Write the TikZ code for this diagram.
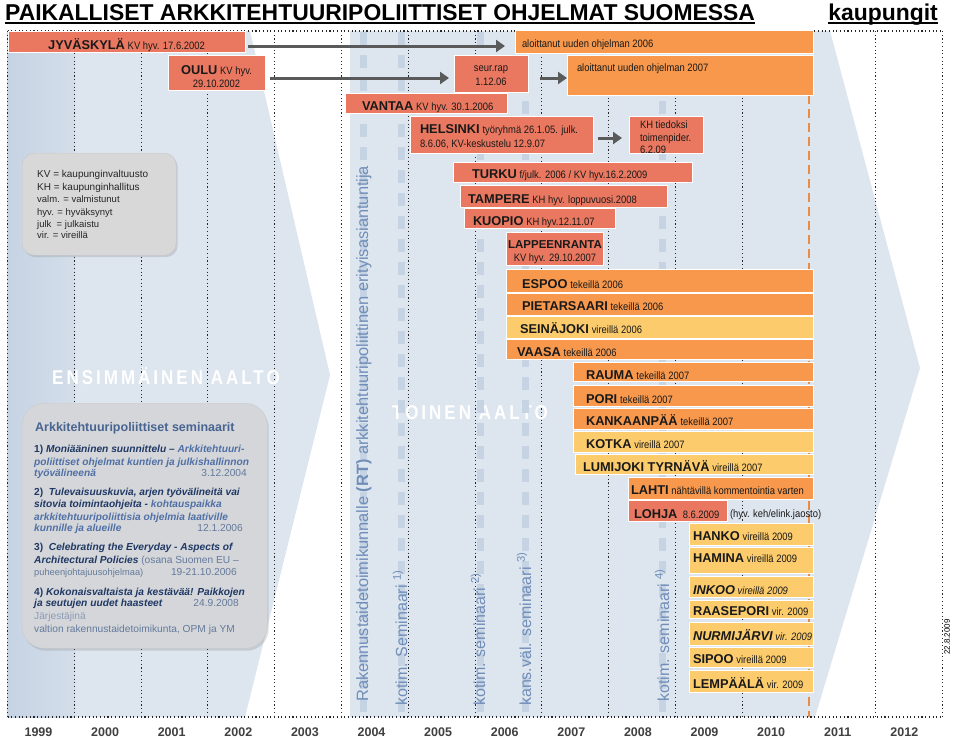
\documentclass[tikz,border=0pt]{standalone}
\usepackage{fontspec}
\setmainfont{Liberation Sans}
\newfontfamily\narrowf[FakeStretch=0.88]{Liberation Sans}
\newfontfamily\wavef[FakeStretch=0.85,LetterSpace=15]{Liberation Sans}
\usetikzlibrary{arrows.meta,shadows}
\definecolor{salm}{RGB}{234,120,96}
\definecolor{oran}{RGB}{247,152,76}
\definecolor{yell}{RGB}{251,203,108}
\definecolor{wave}{RGB}{221,229,239}
\definecolor{wavedark}{RGB}{198,211,227}
\definecolor{barc}{RGB}{198,211,227}
\definecolor{vtext}{RGB}{112,142,184}
\definecolor{arrg}{RGB}{90,90,90}
\definecolor{legg}{RGB}{216,216,216}
\definecolor{semg}{RGB}{212,214,218}
\definecolor{navy}{RGB}{31,56,100}
\definecolor{lblue}{RGB}{80,112,165}
\definecolor{gblue}{RGB}{100,122,155}
\definecolor{semtitle}{RGB}{72,100,145}
\definecolor{yearc}{RGB}{64,64,64}
\definecolor{orl}{RGB}{232,140,70}
\newcommand\cnm[1]{{\fontsize{12.8}{14}\selectfont\bfseries #1}}
\newcommand\cnmi[1]{{\fontsize{12.8}{14}\selectfont\bfseries\itshape #1}}
\newcommand\csm[1]{{\narrowf\fontsize{10.7}{12}\selectfont #1}}
\newcommand\mkbox[6]{\node[box,fill=#2,minimum width={(#5-#3)*1pt},minimum height={(#6-#4)*1pt}] (#1) at (#3,#4) {};}
\begin{document}
\begin{tikzpicture}[x=1pt,y=-1pt,
  box/.style={draw=white,line width=0.6pt,inner sep=0pt,outer sep=0pt,anchor=north west},
  txt/.style={anchor=base west,inner sep=0pt,outer sep=0pt,text=black!90},
  ctxt/.style={anchor=base,inner sep=0pt,outer sep=0pt,text=black!90},
  garr/.style={draw=arrg,line width=3pt,-{Triangle[length=9pt,width=12pt]}},
  gridl/.style={draw=black!85,line width=1.1pt,dash pattern=on 1.1pt off 2.6pt},
  vt/.style={rotate=90,anchor=west,inner sep=0pt,text=vtext,font=\fontsize{16}{18}\selectfont},
  semibar/.style={draw=barc,line width=7pt,dash pattern=on 13pt off 10pt},
  wavest/.style={inner sep=0pt,text=white,font=\wavef\fontsize{20}{22}\selectfont\bfseries},
  lg/.style={anchor=base west,inner sep=0pt,text=black!85,font=\fontsize{10}{12}\selectfont},
  lgs/.style={anchor=base west,inner sep=0pt,text=black!85,font=\fontsize{9.5}{11}\selectfont},
  semst/.style={anchor=base west,inner sep=0pt,text=navy,font=\fontsize{10.2}{12}\selectfont\bfseries\itshape},
  semdate/.style={anchor=base east,inner sep=0pt,text=gblue,font=\fontsize{10.2}{12}\selectfont},
  semplain/.style={anchor=base west,inner sep=0pt,text=gblue,font=\fontsize{10.2}{12}\selectfont},
  yearst/.style={anchor=base,inner sep=0pt,text=yearc,font=\fontsize{12.5}{14}\selectfont\bfseries}]
\useasboundingbox (0,0) rectangle (960,739);
\fill[white] (0,0) rectangle (960,739);
% waves
\fill[wave] (7.5,31) -- (250,31) -- (330,375) -- (245,717) -- (7.5,717) -- cycle;
\shade[left color=wavedark,right color=wave!60!wavedark] (7.5,31) rectangle (75,717);
\fill[wave] (350,31) -- (830,31) -- (920,368) -- (815,717) -- (350,717) -- cycle;
% grid
\foreach \k in {0,...,11,13,14} \draw[gridl] ({7.5+66.8*\k},31) -- ({7.5+66.8*\k},717);
\draw[gridl] (7.5,31) -- (943,31);
\draw[gridl] (7.5,717) -- (943,717);
% wave labels
\node[wavest] (w1) at (166,376) {ENSIMMÄINEN AALTO};
\node[wavest] (w2) at (470,413) {TOINEN AALTO};
% seminar bars
\foreach \bx in {363,401,480,525,662} \draw[semibar] (\bx,32) -- (\bx,717);
% vertical texts
\node[vt,font=\fontsize{16.4}{18}\selectfont] (rt) at (364,702) {Rakennustaidetoimikunnalle \textbf{(RT)} arkkitehtuuripoliittinen erityisasiantuntija};
\node[vt] (sem1) at (400,706) {kotim. Seminaari \textsuperscript{1)}};
\node[vt] (sem2) at (478,706) {kotim. seminaari \textsuperscript{2)}};
\node[vt] (sem3) at (524,706) {kans.väl. seminaari \textsuperscript{3)}};
\node[vt] (sem4) at (662,702) {kotim. seminaari \textsuperscript{4)}};
% orange dashed
\coordinate (od1) at (809,95);
\coordinate (od2) at (809,717);
\draw[draw=orl,line width=1.4pt,dash pattern=on 9pt off 5pt] (od1) -- (od2);
% boxes
\mkbox{jyv}{salm}{8}{31}{245}{52}
\mkbox{oulu}{salm}{168}{55}{265}{90}
\mkbox{seur}{salm}{454}{55}{528}{92}
\mkbox{alo6}{oran}{515}{30}{813}{53}
\mkbox{alo7}{oran}{567}{55}{813}{95}
\mkbox{vantaa}{salm}{345}{93}{507}{113}
\mkbox{hel}{salm}{410}{116}{593}{153}
\mkbox{kh}{salm}{629}{116}{703}{153}
\mkbox{turku}{salm}{453}{162}{692}{182}
\mkbox{tampere}{salm}{460}{185}{667}{207}
\mkbox{kuopio}{salm}{464}{208}{615}{228}
\mkbox{lapp}{salm}{506}{232}{603}{265}
\mkbox{espoo}{oran}{506}{269}{813}{292}
\mkbox{piet}{oran}{506}{293}{813}{315}
\mkbox{sein}{yell}{506}{316}{813}{338}
\mkbox{vaasa}{oran}{506}{339}{813}{359}
\mkbox{rauma}{oran}{573}{362}{813}{381}
\mkbox{pori}{oran}{573}{385}{813}{406}
\mkbox{kank}{oran}{573}{408}{813}{429}
\mkbox{kotka}{yell}{573}{431}{813}{452}
\mkbox{lumi}{yell}{575}{454}{813}{474}
\mkbox{lahti}{oran}{628}{477}{813}{499}
\mkbox{lohja}{salm}{628}{500}{727}{521}
\mkbox{hanko}{yell}{689}{523}{813}{545}
\mkbox{hamina}{yell}{689}{547}{813}{573}
\mkbox{inkoo}{yell}{689}{576}{813}{597}
\mkbox{raase}{yell}{689}{600}{813}{618}
\mkbox{nurmi}{yell}{689}{622}{813}{645}
\mkbox{sipoo}{yell}{689}{647}{813}{667}
\mkbox{lemp}{yell}{689}{670}{813}{692}
% box texts
\node[ctxt] (tjyv) at (126.5,49) {\cnm{JYVÄSKYLÄ} \csm{KV hyv. 17.6.2002}};
\node[ctxt] (toulu1) at (216.5,74) {\cnm{OULU} \csm{KV hyv.}};
\node[ctxt] (toulu2) at (216.5,87) {\csm{29.10.2002}};
\node[ctxt] (tseur1) at (491,71) {\csm{seur.rap}};
\node[ctxt] (tseur2) at (491,85) {\csm{1.12.06}};
\node[txt] (talo6) at (522,47) {\csm{aloittanut uuden ohjelman 2006}};
\node[txt] (talo7) at (577,71) {\csm{aloittanut uuden ohjelman 2007}};
\node[txt] (tvantaa) at (362,110) {\cnm{VANTAA} \csm{KV hyv. 30.1.2006}};
\node[txt] (thel1) at (420,133) {\cnm{HELSINKI} \csm{työryhmä 26.1.05. julk.}};
\node[txt] (thel2) at (420,147) {\csm{8.6.06, KV-keskustelu 12.9.07}};
\node[txt] (tkh1) at (640,128) {\csm{KH tiedoksi}};
\node[txt] (tkh2) at (640,141) {\csm{toimenpider.}};
\node[txt] (tkh3) at (640,153) {\csm{6.2.09}};
\node[txt] (tturku) at (472,178) {\cnm{TURKU} \csm{f/julk. 2006 / KV hyv.16.2.2009}};
\node[txt] (ttampere) at (468,203) {\cnm{TAMPERE} \csm{KH hyv. loppuvuosi.2008}};
\node[txt] (tkuopio) at (473,225) {\cnm{KUOPIO} \csm{KH hyv.12.11.07}};
\node[ctxt] (tlapp1) at (555,248) {{\fontsize{11.5}{13}\selectfont\bfseries LAPPEENRANTA}};
\node[ctxt] (tlapp2) at (555,261) {\csm{KV hyv. 29.10.2007}};
\node[txt] (tespoo) at (522,288) {\cnm{ESPOO} \csm{tekeillä 2006}};
\node[txt] (tpiet) at (522,310) {\cnm{PIETARSAARI} \csm{tekeillä 2006}};
\node[txt] (tsein) at (520,333) {\cnm{SEINÄJOKI} \csm{vireillä 2006}};
\node[txt] (tvaasa) at (517,356) {\cnm{VAASA} \csm{tekeillä 2006}};
\node[txt] (trauma) at (586,379) {\cnm{RAUMA} \csm{tekeillä 2007}};
\node[txt] (tpori) at (586,403) {\cnm{PORI} \csm{tekeillä 2007}};
\node[txt] (tkank) at (586,425) {\cnm{KANKAANPÄÄ} \csm{tekeillä 2007}};
\node[txt] (tkotka) at (586,448) {\cnm{KOTKA} \csm{vireillä 2007}};
\node[txt] (tlumi) at (583,471) {\cnm{LUMIJOKI TYRNÄVÄ} \csm{vireillä 2007}};
\node[txt] (tlahti) at (631,494) {\cnm{LAHTI} \csm{nähtävillä kommentointia varten}};
\node[txt] (tlohja) at (634,518) {\cnm{LOHJA} \csm{\ 8.6.2009}};
\node[txt] (tlohjb) at (730,517) {\csm{(hyv. keh/elink.jaosto)}};
\node[txt] (thanko) at (693,540) {\cnm{HANKO} \csm{vireillä 2009}};
\node[txt] (thamina) at (693,562) {\cnm{HAMINA} \csm{vireillä 2009}};
\node[txt] (tinkoo) at (693,594) {\cnmi{INKOO} \csm{\itshape vireillä 2009}};
\node[txt] (traase) at (693,615) {\cnm{RAASEPORI} \csm{vir. 2009}};
\node[txt] (tnurmi) at (693,640) {\cnmi{NURMIJÄRVI} \csm{\itshape vir. 2009}};
\node[txt] (tsipoo) at (693,663) {\cnm{SIPOO} \csm{vireillä 2009}};
\node[txt] (tlemp) at (693,688) {\cnm{LEMPÄÄLÄ} \csm{vir. 2009}};
% arrows
\draw[garr] ([xshift=3pt,yshift=-4.5pt]jyv.east) -- ([xshift=-10pt,yshift=-4.5pt]alo6.west);
\draw[garr] ([xshift=5pt,yshift=-5.5pt]oulu.east) -- ([xshift=-5pt,yshift=-4.5pt]seur.west);
\draw[garr] ([xshift=12pt,yshift=-4.5pt]seur.east) -- ([yshift=-3pt]alo7.west);
\draw[garr] ([xshift=5pt,yshift=-3.5pt]hel.east) -- ([xshift=-7pt,yshift=-3.5pt]kh.west);
% legend box
\node[draw=black!22,fill=legg,rounded corners=12pt,minimum width=154pt,minimum height=102pt,anchor=north west,inner sep=0pt,
  drop shadow={opacity=0.25,shadow xshift=1.5pt,shadow yshift=-2pt}] (legend) at (22,153) {};
\node[lg] (lg1) at (37,177) {KV = kaupunginvaltuusto};
\node[lg] (lg2) at (37,190) {KH = kaupunginhallitus};
\node[lgs] (lg3) at (37,202) {valm. = valmistunut};
\node[lgs] (lg4) at (37,215) {hyv. = hyväksynyt};
\node[lgs] (lg5) at (37,227) {julk\ \ = julkaistu};
\node[lgs] (lg6) at (37,238) {vir. = vireillä};
% seminar box
\node[draw=black!20,fill=semg,rounded corners=22pt,minimum width=245pt,minimum height=245pt,anchor=north west,inner sep=0pt,
  drop shadow={opacity=0.25,shadow xshift=1.5pt,shadow yshift=-2.5pt}] (sembox) at (22,403) {};
\node[anchor=base west,inner sep=0pt,text=semtitle,font=\fontsize{12.5}{14}\selectfont\bfseries] (semt) at (35,431) {Arkkitehtuuripoliittiset seminaarit};
\node[semst] (s1a) at (34,452) {\upshape 1) \itshape Moniääninen suunnittelu – \textcolor{lblue}{Arkkitehtuuri-}};
\node[semst,text=lblue] (s1b) at (34,465) {poliittiset ohjelmat kuntien ja julkishallinnon};
\node[semst,text=lblue] (s1c) at (34,476) {työvälineenä};
\node[semdate] (d1) at (247,476) {3.12.2004};
\node[semst] (s2a) at (34,495) {\upshape 2)\ \ \itshape Tulevaisuuskuvia, arjen työvälineitä vai};
\node[semst] (s2b) at (34,507) {sitovia toimintaohjeita - \textcolor{lblue}{kohtauspaikka}};
\node[semst,text=lblue] (s2c) at (34,520) {arkkitehtuuripoliittisia ohjelmia laativille};
\node[semst,text=lblue] (s2d) at (34,531) {kunnille ja alueille};
\node[semdate] (d2) at (243,531) {12.1.2006};
\node[semst] (s3a) at (34,550) {\upshape 3)\ \ \itshape Celebrating the Everyday - Aspects of};
\node[semst] (s3b) at (34,563) {Architectural Policies \textcolor{gblue}{\mdseries\upshape (osana Suomen EU –}};
\node[semplain,font=\fontsize{9.3}{11}\selectfont] (s3c) at (34,575) {puheenjohtajuusohjelmaa)};
\node[semdate] (d3) at (237,575) {19-21.10.2006};
\node[semst] (s4a) at (34,595) {\upshape 4) \itshape Kokonaisvaltaista ja kestävää! Paikkojen};
\node[semst] (s4b) at (34,606) {ja seutujen uudet haasteet};
\node[semdate] (d4) at (239,606) {24.9.2008};
\node[semplain,text=gblue!75] (s5a) at (34,619) {Järjestäjinä};
\node[semplain] (s5b) at (34,632) {valtion rakennustaidetoimikunta, OPM ja YM};
% title
\node[anchor=base west,inner sep=0pt,font=\fontsize{22.9}{26}\selectfont\bfseries] (title) at (5,20) {PAIKALLISET ARKKITEHTUURIPOLIITTISET OHJELMAT SUOMESSA};
\draw[line width=1.6pt] ([yshift=-3pt]title.base west) -- ([yshift=-3pt]title.base east);
\node[anchor=base east,inner sep=0pt,font=\fontsize{22.9}{26}\selectfont\bfseries] (kaup) at (938,20) {kaupungit};
\draw[line width=1.6pt] ([yshift=-3pt]kaup.base west) -- ([yshift=-3pt]kaup.base east);
% years
\foreach \yr [count=\i from 0] in {1999,...,2012} \node[yearst] (y\yr) at ({38.5+66.6*\i},736) {\yr};
\node[rotate=90,anchor=west,inner sep=0pt,font=\fontsize{8}{9}\selectfont] (dte) at (947,655) {22.8.2009};
\end{tikzpicture}
\end{document}
